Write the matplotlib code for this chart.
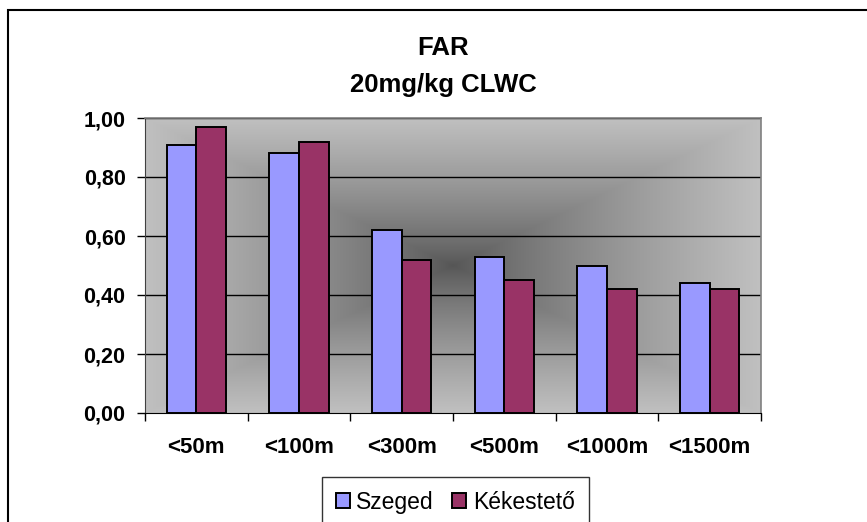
import numpy as np
import matplotlib.pyplot as plt
from matplotlib.patches import Rectangle

categories = ['<50m', '<100m', '<300m', '<500m', '<1000m', '<1500m']
szeged = [0.91, 0.88, 0.62, 0.53, 0.50, 0.44]
kekesteto = [0.97, 0.92, 0.52, 0.45, 0.42, 0.42]
yticks = [0.0, 0.2, 0.4, 0.6, 0.8, 1.0]
ytick_labels = ['0,00', '0,20', '0,40', '0,60', '0,80', '1,00']

plt.rcParams['font.family'] = ['Liberation Sans', 'DejaVu Sans']

fig = plt.figure(figsize=(8.67, 5.22), dpi=100)
ax = fig.add_axes([145/867, 1-413/522, (761-145)/867, (413-118)/522])

# "from center" gradient fill of the plot area
ny, nx = 300, 620
u = np.linspace(-1, 1, nx)
v = np.linspace(-1, 1, ny)
U, V = np.meshgrid(u, v)
t = np.maximum(np.abs(U), np.abs(V))
grey = (85 + (192 - 85) * t ** 0.8) / 255
img = np.dstack([grey, grey, grey])
ax.imshow(img, extent=[-0.5, len(categories) - 0.5, 0, 1], aspect='auto',
          origin='lower', zorder=0, interpolation='bilinear')

x = np.arange(len(categories))
w = 0.29
ax.bar(x - w/2, szeged, w, color='#9999FF', edgecolor='black', linewidth=1.4,
       label='Szeged', zorder=3)
ax.bar(x + w/2, kekesteto, w, color='#993366', edgecolor='black', linewidth=1.4,
       label='Kékestető', zorder=3)

ax.set_xlim(-0.5, len(categories) - 0.5)
ax.set_ylim(0, 1)
ax.set_yticks(yticks)
ax.set_yticklabels(ytick_labels, fontsize=15.5, fontweight='bold')
ax.set_xticks(x)
ax.set_xticklabels(categories, fontsize=16, fontweight='bold')
ax.set_xticks(np.arange(len(categories) + 1) - 0.5, minor=True)
ax.tick_params(axis='x', which='major', length=0, pad=17)
ax.tick_params(axis='x', which='minor', length=6, width=1, direction='out')
ax.tick_params(axis='y', length=6, width=1, direction='out', pad=8)
for yv in yticks[1:]:
    ax.axhline(yv, color='black', linewidth=1, zorder=1)

ax.spines['top'].set_color('#808080')
ax.spines['right'].set_color('#808080')
ax.spines['top'].set_linewidth(1.2)
ax.spines['right'].set_linewidth(1.2)
ax.spines['left'].set_color('#404040')
ax.spines['bottom'].set_color('black')

fig.text(443/867, 1-55/522, 'FAR', ha='center', va='baseline',
         fontsize=18.5, fontweight='bold')
fig.text(443/867, 1-92/522, '20mg/kg CLWC', ha='center', va='baseline',
         fontsize=18.5, fontweight='bold')

leg = fig.legend(loc='upper left', bbox_to_anchor=(322/867, 1-477/522),
                 ncol=2, fontsize=16.5, frameon=True, fancybox=False,
                 handlelength=0.6, handleheight=0.6, handletextpad=0.3,
                 columnspacing=0.8, borderpad=0.6, borderaxespad=0)
leg.get_frame().set_edgecolor('black')
leg.get_frame().set_linewidth(1)

# outer chart border
fig.patches.append(Rectangle((8/867, -0.1), 1.0, 1.1 - 10/522, fill=False,
                             edgecolor='black', linewidth=1.5,
                             transform=fig.transFigure, figure=fig))

fig.savefig('out.png', dpi=100)
